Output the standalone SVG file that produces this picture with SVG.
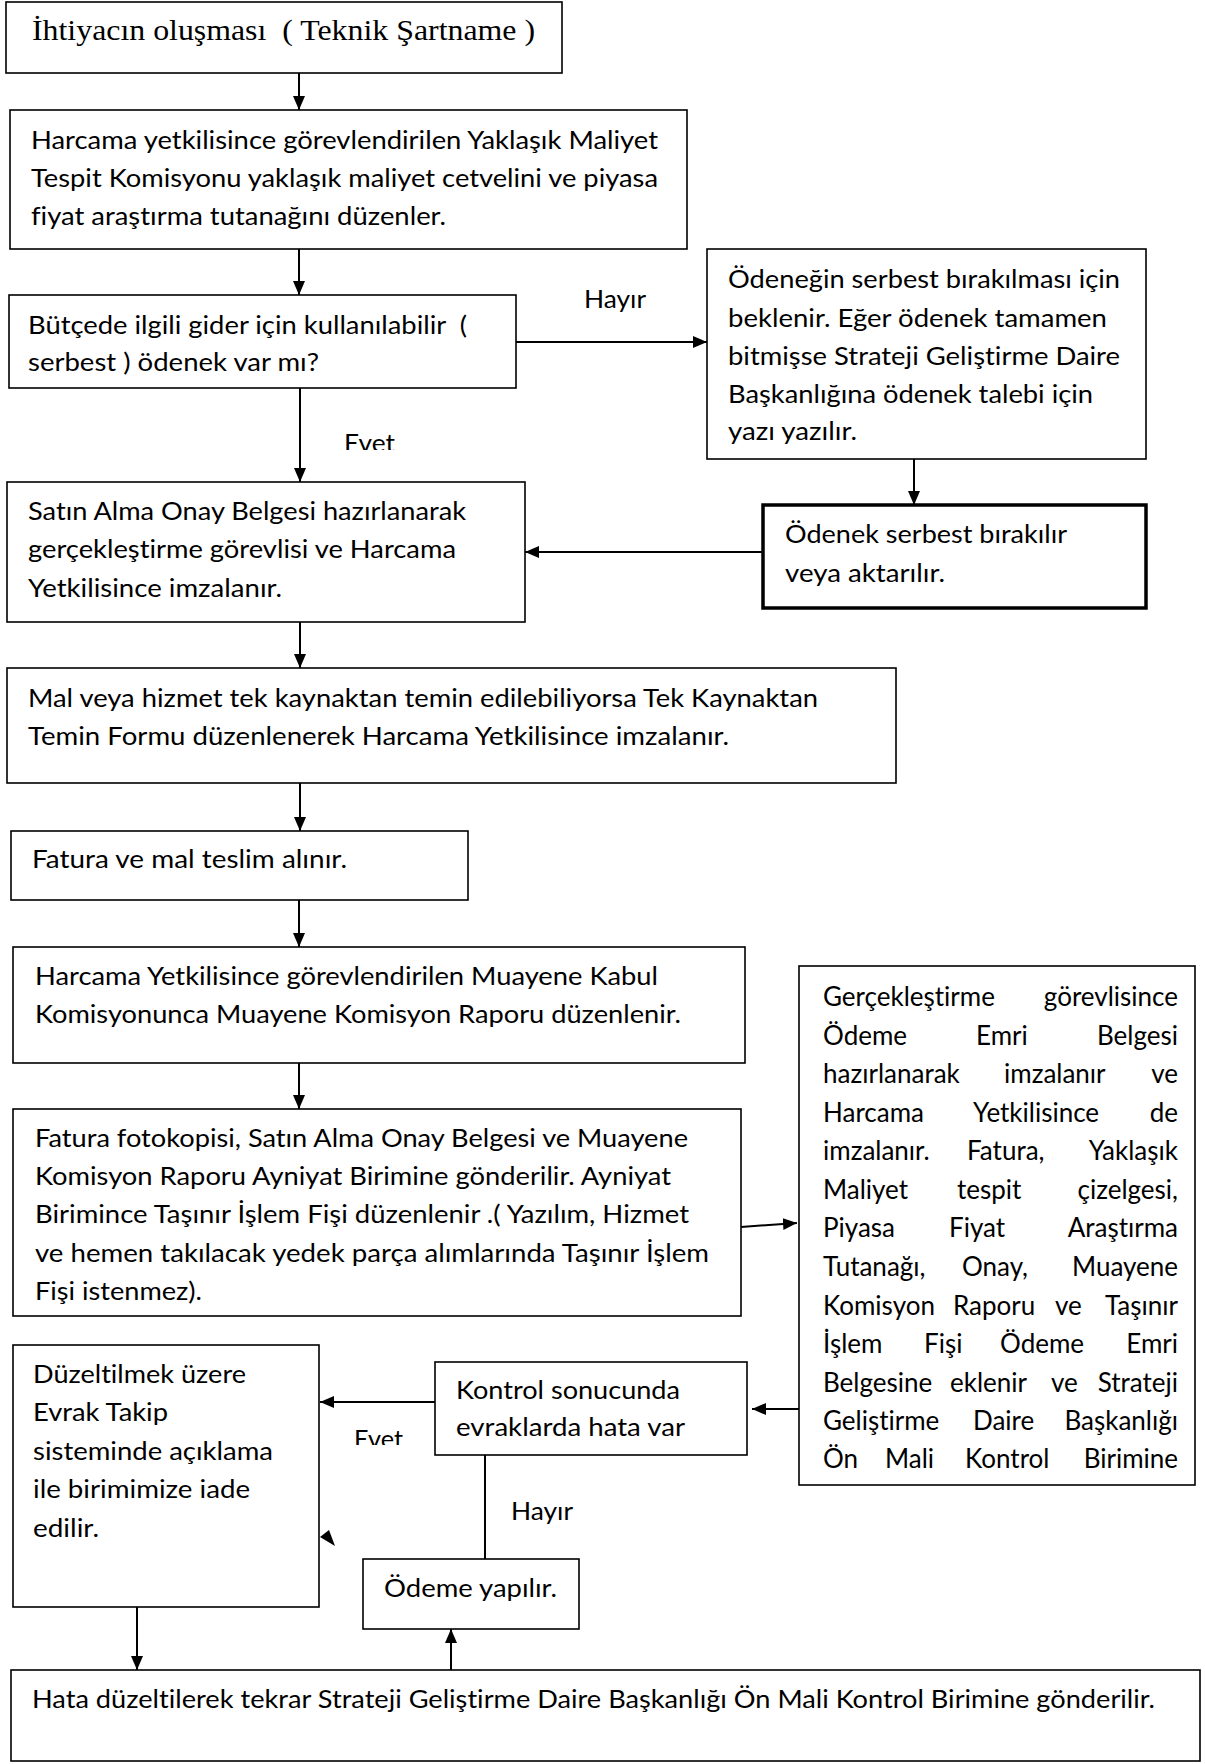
<svg xmlns="http://www.w3.org/2000/svg" width="1205" height="1764" viewBox="0 0 1205 1764">
<style>
.box{fill:#fff;stroke:#000;stroke-width:1.6}
.thick{stroke-width:3.5}
text{font-variant-ligatures:none;font-feature-settings:"liga" 0,"clig" 0,"dlig" 0;white-space:pre}
.t{font-family:Lato,"Liberation Sans",sans-serif;font-size:25px;fill:#000}
.j{font-family:Lato,"Liberation Sans",sans-serif;font-size:26px;fill:#000}
.s{font-family:"Liberation Serif",serif;font-size:30px;fill:#000}
.c{stroke:#000;stroke-width:2;fill:none}
.e{text-anchor:end}
</style>
<defs>
<marker id="ah" markerUnits="userSpaceOnUse" markerWidth="14" markerHeight="12" refX="14" refY="6" orient="auto">
<path d="M0,0 L14,6 L0,12 Z" fill="#000"/>
</marker>
<clipPath id="clipE1"><rect x="330" y="420" width="90" height="30"/></clipPath>
<clipPath id="clipE2"><rect x="340" y="1415" width="90" height="30"/></clipPath>
</defs>

<g id="connectors">
<line class="c" x1="299" y1="73" x2="299" y2="110" marker-end="url(#ah)"/>
<line class="c" x1="299" y1="249" x2="299" y2="295" marker-end="url(#ah)"/>
<line class="c" x1="516" y1="342" x2="707" y2="342" marker-end="url(#ah)"/>
<line class="c" x1="914" y1="459" x2="914" y2="505" marker-end="url(#ah)"/>
<line class="c" x1="763" y1="552" x2="525" y2="552" marker-end="url(#ah)"/>
<line class="c" x1="300" y1="388" x2="300" y2="482" marker-end="url(#ah)"/>
<line class="c" x1="300" y1="622" x2="300" y2="668" marker-end="url(#ah)"/>
<line class="c" x1="300" y1="783" x2="300" y2="831" marker-end="url(#ah)"/>
<line class="c" x1="299" y1="900" x2="299" y2="947" marker-end="url(#ah)"/>
<line class="c" x1="299" y1="1063" x2="299" y2="1109" marker-end="url(#ah)"/>
<line class="c" x1="741" y1="1227" x2="797" y2="1223" marker-end="url(#ah)"/>
<line class="c" x1="799" y1="1409" x2="752" y2="1409" marker-end="url(#ah)"/>
<line class="c" x1="435" y1="1402" x2="320" y2="1402" marker-end="url(#ah)"/>
<line class="c" x1="485" y1="1455" x2="485" y2="1559"/>
<line class="c" x1="451" y1="1670" x2="451" y2="1629" marker-end="url(#ah)"/>
<line class="c" x1="137" y1="1600" x2="137" y2="1670" marker-end="url(#ah)"/>
<polygon points="320,1537 329,1530 335,1546" fill="#000"/>
<text class="t" x="584" y="308" textLength="62" lengthAdjust="spacingAndGlyphs">Hayır</text>
<text class="t" x="344" y="452" textLength="51" lengthAdjust="spacingAndGlyphs" clip-path="url(#clipE1)">Evet</text>
<text class="t" x="354" y="1448" textLength="49" lengthAdjust="spacingAndGlyphs" clip-path="url(#clipE2)">Evet</text>
<text class="t" x="511" y="1520" textLength="62" lengthAdjust="spacingAndGlyphs">Hayır</text>
</g>

<g id="n1">
<rect class="box" x="6" y="2" width="556" height="71"/>
<text class="s" x="32" y="40" textLength="503" lengthAdjust="spacingAndGlyphs" xml:space="preserve">İhtiyacın oluşması  ( Teknik Şartname )</text>
</g>

<g id="n2">
<rect class="box" x="10" y="110" width="677" height="139"/>
<text class="t" x="31" y="149" textLength="627" lengthAdjust="spacingAndGlyphs">Harcama yetkilisince görevlendirilen Yaklaşık Maliyet</text>
<text class="t" x="31" y="187" textLength="627" lengthAdjust="spacingAndGlyphs">Tespit Komisyonu yaklaşık maliyet cetvelini ve piyasa</text>
<text class="t" x="31" y="225" textLength="415" lengthAdjust="spacingAndGlyphs">fiyat araştırma tutanağını düzenler.</text>
</g>

<g id="n3">
<rect class="box" x="9" y="295" width="507" height="93"/>
<text class="t" x="28" y="334" textLength="439" lengthAdjust="spacingAndGlyphs" xml:space="preserve">Bütçede ilgili gider için kullanılabilir  (</text>
<text class="t" x="28" y="371" textLength="291" lengthAdjust="spacingAndGlyphs">serbest ) ödenek var mı?</text>
</g>

<g id="n4">
<rect class="box" x="707" y="249" width="439" height="210"/>
<text class="t" x="728" y="288" textLength="392" lengthAdjust="spacingAndGlyphs">Ödeneğin serbest bırakılması için</text>
<text class="t" x="728" y="327" textLength="379" lengthAdjust="spacingAndGlyphs">beklenir. Eğer ödenek tamamen</text>
<text class="t" x="728" y="365" textLength="392" lengthAdjust="spacingAndGlyphs">bitmişse Strateji Geliştirme Daire</text>
<text class="t" x="728" y="403" textLength="365" lengthAdjust="spacingAndGlyphs">Başkanlığına ödenek talebi için</text>
<text class="t" x="728" y="440" textLength="129" lengthAdjust="spacingAndGlyphs">yazı yazılır.</text>
</g>

<g id="n5">
<rect class="box thick" x="763" y="505" width="383" height="103"/>
<text class="t" x="785" y="543" textLength="282" lengthAdjust="spacingAndGlyphs">Ödenek serbest bırakılır</text>
<text class="t" x="785" y="582" textLength="160" lengthAdjust="spacingAndGlyphs">veya aktarılır.</text>
</g>

<g id="n6">
<rect class="box" x="7" y="482" width="518" height="140"/>
<text class="t" x="28" y="520" textLength="438" lengthAdjust="spacingAndGlyphs">Satın Alma Onay Belgesi hazırlanarak</text>
<text class="t" x="28" y="558" textLength="428" lengthAdjust="spacingAndGlyphs">gerçekleştirme görevlisi ve Harcama</text>
<text class="t" x="28" y="597" textLength="254" lengthAdjust="spacingAndGlyphs">Yetkilisince imzalanır.</text>
</g>

<g id="n7">
<rect class="box" x="7" y="668" width="889" height="115"/>
<text class="t" x="28" y="707" textLength="790" lengthAdjust="spacingAndGlyphs">Mal veya hizmet tek kaynaktan temin edilebiliyorsa Tek Kaynaktan</text>
<text class="t" x="28" y="745" textLength="701" lengthAdjust="spacingAndGlyphs">Temin Formu düzenlenerek Harcama Yetkilisince imzalanır.</text>
</g>

<g id="n8">
<rect class="box" x="11" y="831" width="457" height="69"/>
<text class="t" x="32" y="868" textLength="315" lengthAdjust="spacingAndGlyphs">Fatura ve mal teslim alınır.</text>
</g>

<g id="n9">
<rect class="box" x="13" y="947" width="732" height="116"/>
<text class="t" x="35" y="985" textLength="623" lengthAdjust="spacingAndGlyphs">Harcama Yetkilisince görevlendirilen Muayene Kabul</text>
<text class="t" x="35" y="1023" textLength="646" lengthAdjust="spacingAndGlyphs">Komisyonunca Muayene Komisyon Raporu düzenlenir.</text>
</g>

<g id="n10">
<rect class="box" x="13" y="1109" width="728" height="207"/>
<text class="t" x="35" y="1147" textLength="653" lengthAdjust="spacingAndGlyphs">Fatura fotokopisi, Satın Alma Onay Belgesi ve Muayene</text>
<text class="t" x="35" y="1185" textLength="636" lengthAdjust="spacingAndGlyphs">Komisyon Raporu Ayniyat Birimine gönderilir. Ayniyat</text>
<text class="t" x="35" y="1223" textLength="654" lengthAdjust="spacingAndGlyphs">Birimince Taşınır İşlem Fişi düzenlenir .( Yazılım, Hizmet</text>
<text class="t" x="35" y="1262" textLength="674" lengthAdjust="spacingAndGlyphs">ve hemen takılacak yedek parça alımlarında Taşınır İşlem</text>
<text class="t" x="35" y="1300" textLength="167" lengthAdjust="spacingAndGlyphs">Fişi istenmez).</text>
</g>

<g id="n11">
<rect class="box" x="799" y="966" width="396" height="519"/>
<text class="j" y="1006"><tspan x="823">Gerçekleştirme</tspan><tspan class="e" x="1178">görevlisince</tspan></text>
<text class="j" y="1045"><tspan x="823">Ödeme</tspan><tspan x="976">Emri</tspan><tspan class="e" x="1178">Belgesi</tspan></text>
<text class="j" y="1083"><tspan x="823">hazırlanarak</tspan><tspan x="1004">imzalanır</tspan><tspan class="e" x="1178">ve</tspan></text>
<text class="j" y="1122"><tspan x="823">Harcama</tspan><tspan x="973">Yetkilisince</tspan><tspan class="e" x="1178">de</tspan></text>
<text class="j" y="1160"><tspan x="823">imzalanır.</tspan><tspan x="967">Fatura,</tspan><tspan class="e" x="1178">Yaklaşık</tspan></text>
<text class="j" y="1199"><tspan x="823">Maliyet</tspan><tspan x="957">tespit</tspan><tspan class="e" x="1178">çizelgesi,</tspan></text>
<text class="j" y="1237"><tspan x="823">Piyasa</tspan><tspan x="949">Fiyat</tspan><tspan class="e" x="1178">Araştırma</tspan></text>
<text class="j" y="1276"><tspan x="823">Tutanağı,</tspan><tspan x="962">Onay,</tspan><tspan class="e" x="1178">Muayene</tspan></text>
<text class="j" y="1315"><tspan x="823">Komisyon</tspan><tspan x="953">Raporu</tspan><tspan x="1055">ve</tspan><tspan class="e" x="1178">Taşınır</tspan></text>
<text class="j" y="1353"><tspan x="823">İşlem</tspan><tspan x="924">Fişi</tspan><tspan x="1000">Ödeme</tspan><tspan class="e" x="1178">Emri</tspan></text>
<text class="j" y="1392"><tspan x="823">Belgesine</tspan><tspan x="950">eklenir</tspan><tspan x="1051">ve</tspan><tspan class="e" x="1178">Strateji</tspan></text>
<text class="j" y="1430"><tspan x="823">Geliştirme</tspan><tspan x="973">Daire</tspan><tspan class="e" x="1178">Başkanlığı</tspan></text>
<text class="j" y="1468"><tspan x="823">Ön</tspan><tspan x="885">Mali</tspan><tspan x="965">Kontrol</tspan><tspan class="e" x="1178">Birimine</tspan></text>
</g>

<g id="n12">
<rect class="box" x="13" y="1345" width="306" height="262"/>
<text class="t" x="33" y="1383" textLength="213" lengthAdjust="spacingAndGlyphs">Düzeltilmek üzere</text>
<text class="t" x="33" y="1421" textLength="135" lengthAdjust="spacingAndGlyphs">Evrak Takip</text>
<text class="t" x="33" y="1460" textLength="240" lengthAdjust="spacingAndGlyphs">sisteminde açıklama</text>
<text class="t" x="33" y="1498" textLength="217" lengthAdjust="spacingAndGlyphs">ile birimimize iade</text>
<text class="t" x="33" y="1537" textLength="66" lengthAdjust="spacingAndGlyphs">edilir.</text>
</g>

<g id="n13">
<rect class="box" x="435" y="1362" width="312" height="93"/>
<text class="t" x="456" y="1399" textLength="224" lengthAdjust="spacingAndGlyphs">Kontrol sonucunda</text>
<text class="t" x="456" y="1436" textLength="229" lengthAdjust="spacingAndGlyphs">evraklarda hata var</text>
</g>

<g id="n14">
<rect class="box" x="363" y="1559" width="216" height="70"/>
<text class="t" x="384" y="1597" textLength="173" lengthAdjust="spacingAndGlyphs">Ödeme yapılır.</text>
</g>

<g id="n15">
<rect class="box" x="11" y="1670" width="1189" height="91"/>
<text class="t" x="32" y="1708" textLength="1123" lengthAdjust="spacingAndGlyphs">Hata düzeltilerek tekrar Strateji Geliştirme Daire Başkanlığı Ön Mali Kontrol Birimine gönderilir.</text>
</g>
</svg>
